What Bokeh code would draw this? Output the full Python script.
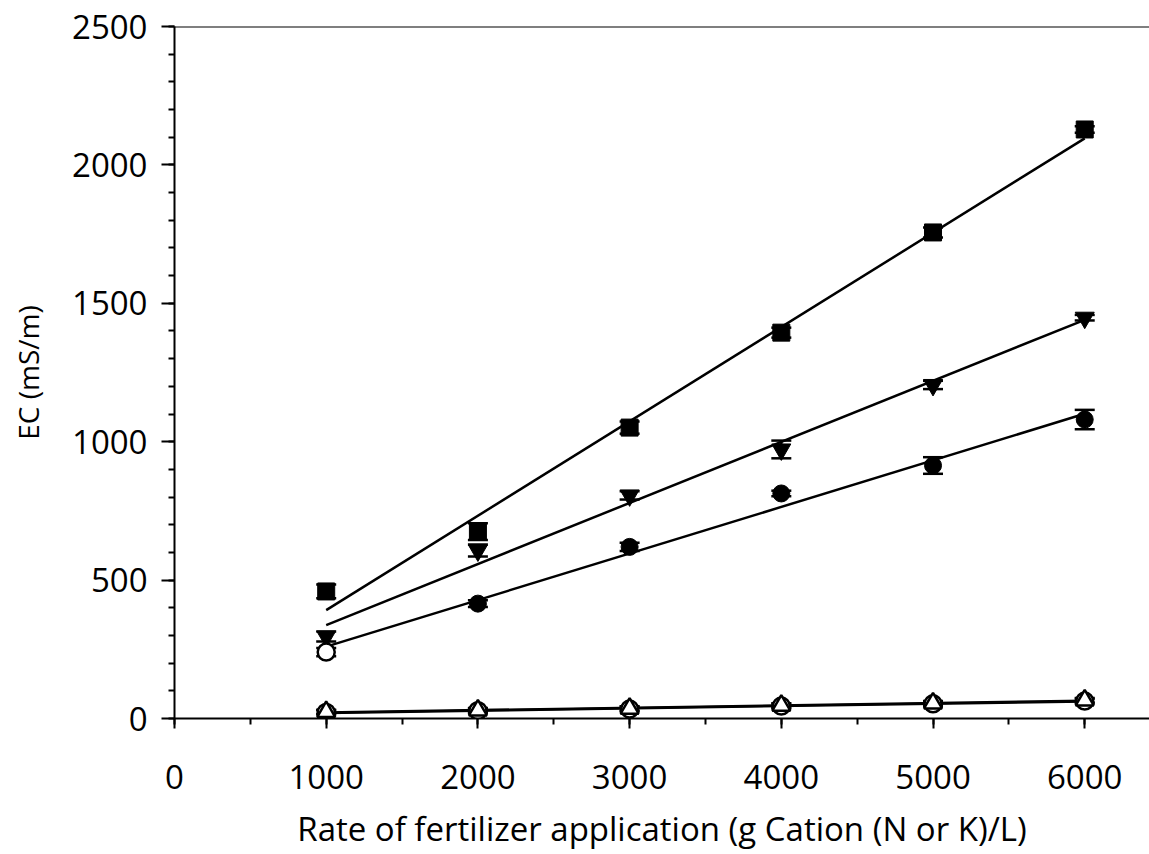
import numpy as np
from bokeh.plotting import figure
from bokeh.models import (ColumnDataSource, Whisker, TeeHead, SingleIntervalTicker,
                          Span, Range1d)
from bokeh.embed import file_html
from bokeh.resources import INLINE

# ---- data ----
rate = [1000, 2000, 3000, 4000, 5000, 6000]
ec_square = [459, 675, 1051, 1394, 1756, 2128]
err_square = [25, 30, 22, 18, 18, 12]
ec_down = [296, 607, 806, 972, 1205, 1448]
err_down = [18, 22, 15, 32, 15, 10]
ec_circle = [240, 415, 620, 813, 914, 1080]
err_circle = [15, 12, 15, 10, 30, 35]
ec_open_circle = [22, 28, 34, 45, 53, 63]
ec_open_up = [24, 30, 36, 47, 55, 66]
err_open = [8, 8, 8, 8, 8, 8]

x_ticks_interval = 1000
y_ticks_interval = 500

FONT = "Open Sans"

p = figure(width=1149, height=854, output_backend="svg", toolbar_location=None,
           x_range=Range1d(0, 6427), y_range=Range1d(0, 2500),
           min_border_left=174, min_border_right=0, min_border_top=26,
           min_border_bottom=136)
p.outline_line_color = None
p.xgrid.visible = False
p.ygrid.visible = False
p.background_fill_color = "white"
p.border_fill_color = "white"

# top line
p.add_layout(Span(location=2500, dimension="width", line_color="black", line_width=2))

LW = 2.5

def fit_line(ys):
    k, b = np.polyfit(rate, ys, 1)
    xs = np.array([rate[0], rate[-1]])
    p.line(xs, k * xs + b, line_color="black", line_width=LW)

for ys in (ec_square, ec_down, ec_circle, ec_open_circle, ec_open_up):
    fit_line(ys)

def whiskers(ys, errs):
    src = ColumnDataSource(dict(x=rate,
                                lo=[y - e for y, e in zip(ys, errs)],
                                hi=[y + e for y, e in zip(ys, errs)]))
    w = Whisker(source=src, base="x", lower="lo", upper="hi",
                line_color="black", line_width=LW,
                upper_head=TeeHead(size=20, line_width=LW, line_color="black"),
                lower_head=TeeHead(size=20, line_width=LW, line_color="black"))
    p.add_layout(w)

whiskers(ec_square, err_square)
whiskers(ec_down, err_down)
whiskers(ec_circle, err_circle)
whiskers(ec_open_circle, err_open)
whiskers(ec_open_up, err_open)

p.scatter(rate, ec_square, marker="square", size=17, fill_color="black", line_color="black")
p.scatter(rate, ec_down, marker="inverted_triangle", size=19, fill_color="black", line_color="black")
p.scatter(rate[1:], ec_circle[1:], marker="circle", size=17, fill_color="black", line_color="black")
p.scatter(rate[:1], ec_circle[:1], marker="circle", size=17, fill_color="white",
          line_color="black", line_width=2.5)
p.scatter(rate, ec_open_circle, marker="circle", size=17, fill_color="white",
          line_color="black", line_width=2.5)
p.scatter(rate, ec_open_up, marker="triangle", size=18, fill_color="white",
          line_color="black", line_width=2.5)

# axes
xa = p.xaxis[0]
xa.ticker = SingleIntervalTicker(interval=x_ticks_interval, num_minor_ticks=2)
ya = p.yaxis[0]
ya.ticker = SingleIntervalTicker(interval=y_ticks_interval, num_minor_ticks=5)

for ax in (xa, ya):
    ax.axis_line_width = 2
    ax.axis_line_color = "black"
    ax.major_tick_line_width = 2
    ax.minor_tick_line_width = 2
    ax.major_tick_in = 0
    ax.minor_tick_in = 0
    ax.major_label_text_font = FONT
    ax.major_label_text_font_size = "33px"
    ax.major_label_text_color = "black"
    ax.axis_label_text_font = FONT
    ax.axis_label_text_font_style = "normal"
    ax.axis_label_text_color = "black"

xa.major_tick_out = 10
xa.minor_tick_out = 6
xa.major_label_standoff = 36
xa.axis_label = "Rate of fertilizer application (g Cation (N or K)/L)"
xa.axis_label_text_font_size = "33px"
xa.axis_label_standoff = 14

ya.major_tick_out = 13
ya.minor_tick_out = 6
ya.major_label_standoff = 14
ya.axis_label = "EC (mS/m)"
ya.axis_label_text_font_size = "28px"
ya.axis_label_standoff = 22

open("out.html", "w").write(file_html(p, INLINE))
